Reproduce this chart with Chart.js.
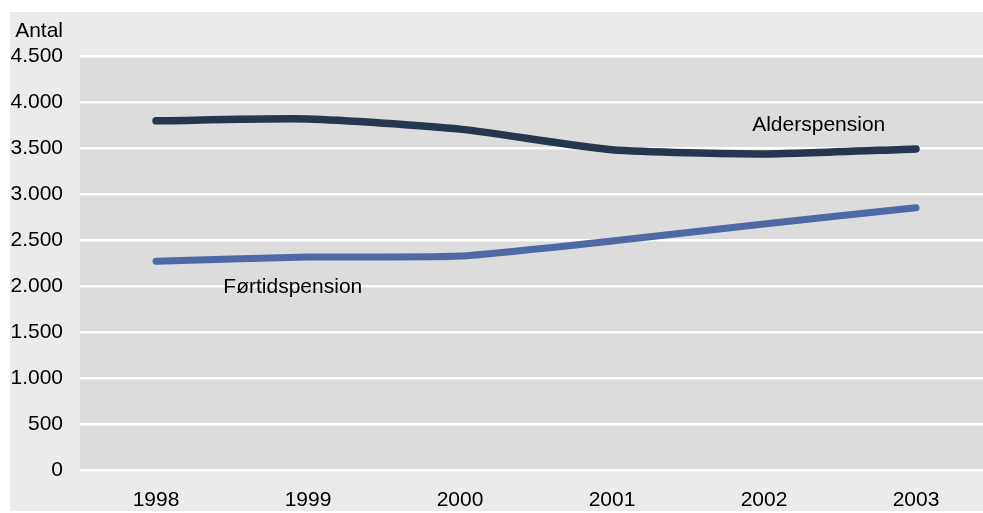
<!DOCTYPE html>
<html>
<head>
<meta charset="utf-8">
<script src="https://cdn.jsdelivr.net/npm/chart.js@4"></script>
<style>
  html, body { margin: 0; padding: 0; background: #fff; overflow: hidden; }
  #wrap { position: absolute; left: 0; top: 0; width: 1000px; height: 513px; }
</style>
</head>
<body>
<div id="wrap"><canvas id="myChart"></canvas></div>
<script>
const years = ['1998', '1999', '2000', '2001', '2002', '2003'];
const alderspension = [3795, 3815, 3705, 3480, 3435, 3490];
const foertidspension = [2270, 2315, 2325, 2490, 2675, 2850];
const seriesLabels = ['Alderspension', 'Førtidspension'];
const yTicks = [0, 500, 1000, 1500, 2000, 2500, 3000, 3500, 4000, 4500];
const axisTitle = 'Antal';

const fontFamily = '"Liberation Sans", Arial, sans-serif';
const fontSize = 21;

// backgrounds + inline series labels + axis caption
const decor = {
  id: 'decor',
  beforeDraw(chart) {
    const { ctx, chartArea: a } = chart;
    ctx.save();
    ctx.fillStyle = '#ebebeb';
    ctx.fillRect(10, 12, chart.width - 10, chart.height - 14);
    ctx.fillStyle = '#dcdcdc';
    ctx.fillRect(a.left, a.top, a.right - a.left, a.bottom - a.top);
    ctx.restore();
  },
  afterDraw(chart) {
    const { ctx, scales: { x, y } } = chart;
    ctx.save();
    ctx.font = fontSize + 'px ' + fontFamily;
    ctx.fillStyle = '#000';
    ctx.textAlign = 'center';
    ctx.textBaseline = 'middle';
    ctx.fillText(seriesLabels[0], x.getPixelForValue(4.36), y.getPixelForValue(3750));
    ctx.fillText(seriesLabels[1], x.getPixelForValue(0.9), y.getPixelForValue(1990));
    ctx.textAlign = 'right';
    ctx.fillText(axisTitle, 63, 31);
    ctx.restore();
  }
};

new Chart(document.getElementById('myChart'), {
  type: 'line',
  data: {
    labels: years,
    datasets: [{
      label: seriesLabels[0],
      data: alderspension,
      borderColor: '#253650',
      borderWidth: 7.5,
      borderCapStyle: 'round',
      pointRadius: 0,
      tension: 0.2
    }, {
      label: seriesLabels[1],
      data: foertidspension,
      borderColor: '#4d6aa6',
      borderWidth: 7,
      borderCapStyle: 'round',
      pointRadius: 0,
      tension: 0.2
    }]
  },
  options: {
    responsive: true,
    maintainAspectRatio: false,
    animation: false,
    layout: { padding: { left: 10, top: 56, right: 8, bottom: 3 } },
    plugins: { legend: { display: false }, tooltip: { enabled: false } },
    scales: {
      x: {
        offset: true,
        grid: { display: false, drawTicks: false },
        border: { display: false },
        ticks: { color: '#000', font: { family: fontFamily, size: fontSize }, padding: 18, maxRotation: 0 },
        afterFit(s) { s.height = 40; }
      },
      y: {
        min: 0,
        max: 4500,
        afterBuildTicks(s) { s.ticks = yTicks.map(v => ({ value: v })); },
        grid: { color: '#ffffff', lineWidth: 2.5, drawTicks: false },
        border: { display: false },
        ticks: {
          color: '#000',
          padding: 17,
          font: { family: fontFamily, size: fontSize },
          callback: v => v.toLocaleString('da-DK')
        },
        afterFit(s) { s.width = 70; }
      }
    }
  },
  plugins: [decor]
});
</script>
</body>
</html>
